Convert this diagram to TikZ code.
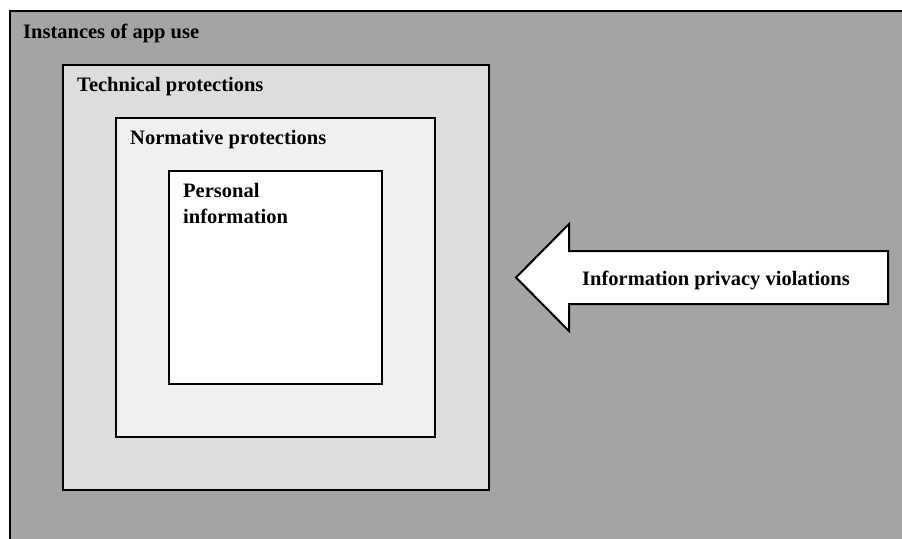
\documentclass[tikz,border=0pt]{standalone}
\usepackage{fontspec}
\setmainfont{Liberation Serif}
\definecolor{usegray}{HTML}{A4A4A4}
\definecolor{techgray}{HTML}{DDDDDD}
\definecolor{normgray}{HTML}{F0F0F0}
\begin{document}
\begin{tikzpicture}[x=1pt,y=-1pt,
  frame/.style={draw=black, line width=2pt},
  lbl/.style={anchor=base west, inner sep=0pt, align=left,
    font=\bfseries\fontsize{20.5}{26}\selectfont}]
  \useasboundingbox (0,0) rectangle (902,538);
  \clip (0,0) rectangle (902,538);
  \fill[white] (0,0) rectangle (902,538);

  % nested protection layers
  \draw[frame, fill=usegray] (10,11) rectangle (910,550);
  \draw[frame, fill=techgray] (63,65) rectangle (489,490);
  \draw[frame, fill=normgray] (116,118) rectangle (435,437);
  \draw[frame, fill=white] (169,171) rectangle (382,384);

  \node[lbl] (use) at (23,38) {Instances of app use};
  \node[lbl] (tech) at (77,91) {Technical protections};
  \node[lbl] (norm) at (130,144) {Normative protections};
  % base anchor of a two-line label sits on its last line
  \node[lbl] (pers) at (183,223) {Personal\\information};

  % incoming arrow
  \draw[frame, fill=white, line join=miter]
    (516,277.5) -- (569,224) -- (569,251) -- (888,251) -- (888,304)
    -- (569,304) -- (569,331) -- cycle;
  \node[lbl] (viol) at (582,285) {Information privacy violations};
\end{tikzpicture}
\end{document}
